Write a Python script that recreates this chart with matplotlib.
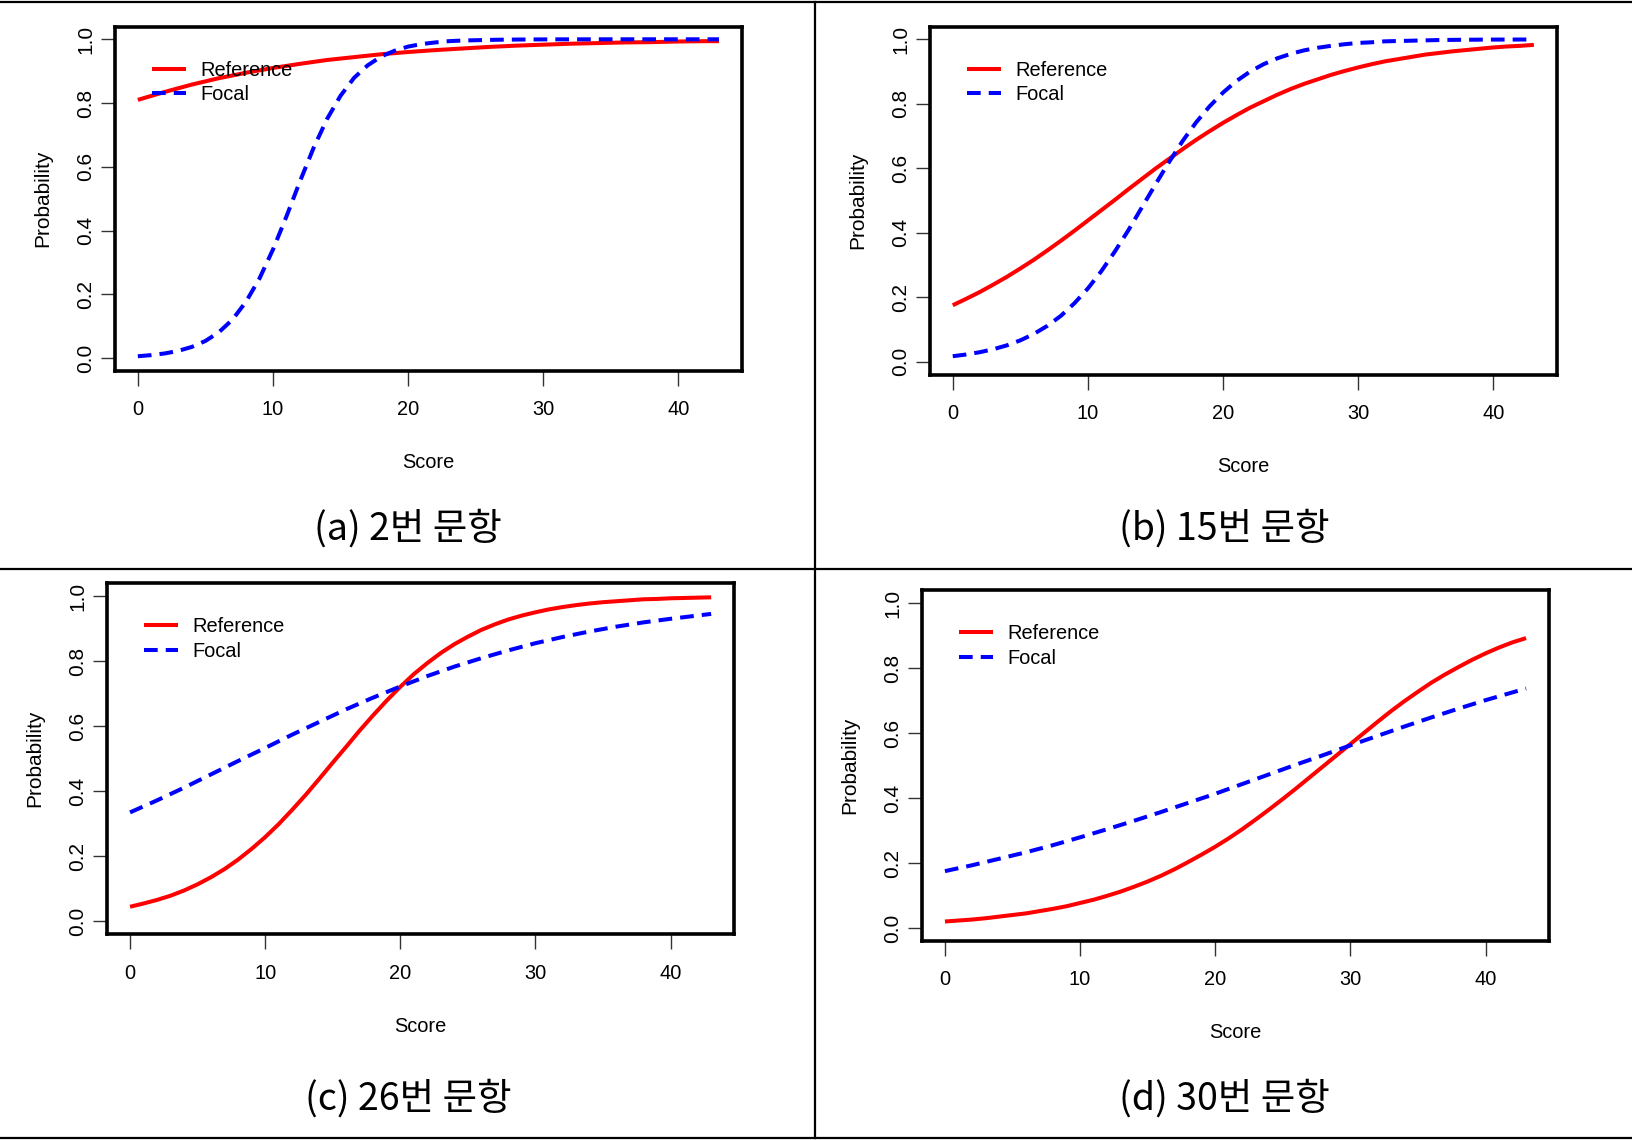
import matplotlib
matplotlib.use('Agg')
import matplotlib.pyplot as plt
from matplotlib.lines import Line2D

# ---- data ----
score_coarse = [0, 2, 4, 6, 8, 10, 12, 14, 16, 18, 20, 22, 24, 26, 28, 30, 32, 34, 36, 38, 40, 42, 43]
score_fine = list(range(44))

a_reference = [0.810, 0.835, 0.858, 0.878, 0.895, 0.910, 0.923, 0.935, 0.944, 0.953, 0.960, 0.966,
               0.971, 0.976, 0.980, 0.983, 0.986, 0.988, 0.990, 0.991, 0.993, 0.994, 0.994]
a_focal = [0.0063, 0.0098, 0.0151, 0.0232, 0.0356, 0.0542, 0.0817, 0.121, 0.177, 0.250, 0.341, 0.445,
           0.555, 0.659, 0.750, 0.823, 0.879, 0.918, 0.946, 0.964, 0.977, 0.985, 0.990, 0.994, 0.996,
           0.997, 0.998, 0.9987, 0.9991, 0.9994, 0.9996, 0.9997, 0.9998, 0.9998, 0.9999, 0.9999,
           0.9999, 0.9999, 0.9999, 0.9999, 0.9999, 0.9999, 0.9999, 0.9999]

b_reference = [0.175, 0.195, 0.216, 0.239, 0.263, 0.289, 0.316, 0.345, 0.375, 0.406,
               0.438, 0.470, 0.502, 0.535, 0.567, 0.599, 0.629, 0.659, 0.688, 0.715,
               0.741, 0.765, 0.788, 0.808, 0.828, 0.846, 0.862, 0.876, 0.890, 0.902,
               0.913, 0.923, 0.932, 0.939, 0.946, 0.953, 0.958, 0.963, 0.967, 0.971,
               0.975, 0.978, 0.980, 0.983]
b_focal = [0.0167, 0.0221, 0.0292, 0.0384, 0.0504, 0.0660, 0.0858, 0.111, 0.142, 0.181, 0.227, 0.281,
           0.342, 0.408, 0.479, 0.550, 0.619, 0.684, 0.742, 0.792, 0.835, 0.871, 0.900, 0.923, 0.941,
           0.955, 0.966, 0.974, 0.980, 0.985, 0.989, 0.991, 0.994, 0.995, 0.996, 0.997, 0.998, 0.9985,
           0.9989, 0.9992, 0.9994, 0.9995, 0.9996, 0.9997]

c_reference = [0.045, 0.055, 0.066, 0.079, 0.095, 0.114, 0.136, 0.161, 0.190, 0.223,
               0.259, 0.299, 0.343, 0.389, 0.438, 0.488, 0.537, 0.587, 0.634, 0.679,
               0.721, 0.760, 0.794, 0.825, 0.852, 0.875, 0.896, 0.913, 0.928, 0.940,
               0.950, 0.959, 0.966, 0.972, 0.977, 0.981, 0.984, 0.987, 0.990, 0.991,
               0.993, 0.994, 0.995, 0.996]
c_focal = [0.335, 0.372, 0.411, 0.452, 0.493, 0.533, 0.574, 0.613, 0.652, 0.688, 0.722, 0.754,
           0.783, 0.809, 0.833, 0.855, 0.874, 0.891, 0.906, 0.919, 0.930, 0.940, 0.945]

d_reference = [0.020, 0.023, 0.026, 0.030, 0.035, 0.040, 0.045, 0.052, 0.059, 0.067,
               0.077, 0.087, 0.099, 0.112, 0.127, 0.143, 0.161, 0.181, 0.203, 0.226,
               0.250, 0.276, 0.304, 0.334, 0.365, 0.397, 0.430, 0.464, 0.498, 0.532,
               0.566, 0.600, 0.634, 0.667, 0.698, 0.727, 0.755, 0.780, 0.803, 0.825,
               0.845, 0.863, 0.879, 0.892]
d_focal = [0.175, 0.193, 0.213, 0.233, 0.255, 0.279, 0.304, 0.330, 0.357, 0.385, 0.413, 0.443,
           0.473, 0.503, 0.532, 0.562, 0.591, 0.620, 0.648, 0.675, 0.701, 0.725, 0.737]

x_ticks = [0, 10, 20, 30, 40]
y_ticks = [0.0, 0.2, 0.4, 0.6, 0.8, 1.0]
y_ticklabels = ["0.0", "0.2", "0.4", "0.6", "0.8", "1.0"]
captions = ["(a) 2번 문항", "(b) 15번 문항", "(c) 26번 문항", "(d) 30번 문항"]
series_labels = ["Reference", "Focal"]

panels = [
    (score_coarse, a_reference, score_fine, a_focal),
    (score_fine, b_reference, score_fine, b_focal),
    (score_fine, c_reference, score_coarse, c_focal),
    (score_fine, d_reference, score_coarse, d_focal),
]

# ---- layout (pixels) ----
W, H = 1632, 1140
boxes = [  # left, right, top, bottom in pixels
    (114.6, 742.2, 26.5, 371.0),
    (929.5, 1557.1, 26.5, 374.5),
    (106.8, 734.4, 583.0, 934.4),
    (921.7, 1549.3, 590.0, 941.0),
]
caption_pos = [(408, 529), (1224, 529), (408, 1099), (1224, 1099)]

NARROW = ['Liberation Sans Narrow', 'Liberation Sans', 'DejaVu Sans']
ARIAL = ['Liberation Sans', 'DejaVu Sans']
KOREAN = ['Noto Sans CJK KR', 'DejaVu Sans']

fig = plt.figure(figsize=(W / 100, H / 100), dpi=100)
fig.patch.set_facecolor('white')

for i, (box, data) in enumerate(zip(boxes, panels)):
    l, r, t, b = box
    ax = fig.add_axes([l / W, 1 - b / H, (r - l) / W, (b - t) / H])
    xr, yr, xf, yf = data
    ax.plot(xr, yr, color='#FF0000', lw=2.9, solid_capstyle='butt', label=series_labels[0])
    ax.plot(xf, yf, color='#0000FF', lw=2.9, linestyle=(0, (3.4, 2.0)), label=series_labels[1])
    ax.set_xlim(-1.72, 44.72)
    ax.set_ylim(-0.04, 1.04)
    ax.set_xticks(x_ticks)
    ax.set_xticklabels([str(v) for v in x_ticks], family=NARROW, fontsize=14.4)
    ax.set_yticks(y_ticks)
    ax.set_yticklabels(y_ticklabels, family=ARIAL, fontsize=15, rotation=90, va='center')
    ax.tick_params(axis='x', length=11, width=1, color='#333333', pad=10)
    ax.tick_params(axis='y', length=10, width=1, color='#333333', pad=4)
    for s in ax.spines.values():
        s.set_linewidth(2.6)
        s.set_color('black')
    wpx, hpx = r - l, b - t
    ax.set_xlabel("Score", family=NARROW, fontsize=14.4)
    ax.xaxis.set_label_coords(0.5, -92 / hpx)
    ax.xaxis.label.set_va('center')
    ax.set_ylabel("Probability", family=ARIAL, fontsize=15)
    ax.yaxis.set_label_coords(-72 / wpx, 0.5)
    ax.yaxis.label.set_va('center')
    ax.legend(loc='upper left', bbox_to_anchor=(37.5 / wpx, 1 - 34 / hpx), frameon=False,
              borderpad=0, borderaxespad=0, handlelength=1.7, handletextpad=0.7,
              labelspacing=0.28, prop={'family': NARROW, 'size': 14.4})
    cx, cy = caption_pos[i]
    fig.text(cx / W, 1 - cy / H, captions[i], family=KOREAN, fontsize=27, fontweight='light',
             ha='center', va='center')

# separator lines
lw_sep = 1.6
fig.add_artist(Line2D([0, 1], [1 - 1.5 / H, 1 - 1.5 / H], color='black', lw=lw_sep))
fig.add_artist(Line2D([0, 1], [1 - 569.5 / H, 1 - 569.5 / H], color='black', lw=lw_sep))
fig.add_artist(Line2D([0, 1], [1 - 1138 / H, 1 - 1138 / H], color='black', lw=lw_sep))
fig.add_artist(Line2D([815 / W, 815 / W], [1 - 1138 / H, 1 - 1.5 / H], color='black', lw=lw_sep))

fig.savefig('out.png', dpi=100, facecolor='white')
